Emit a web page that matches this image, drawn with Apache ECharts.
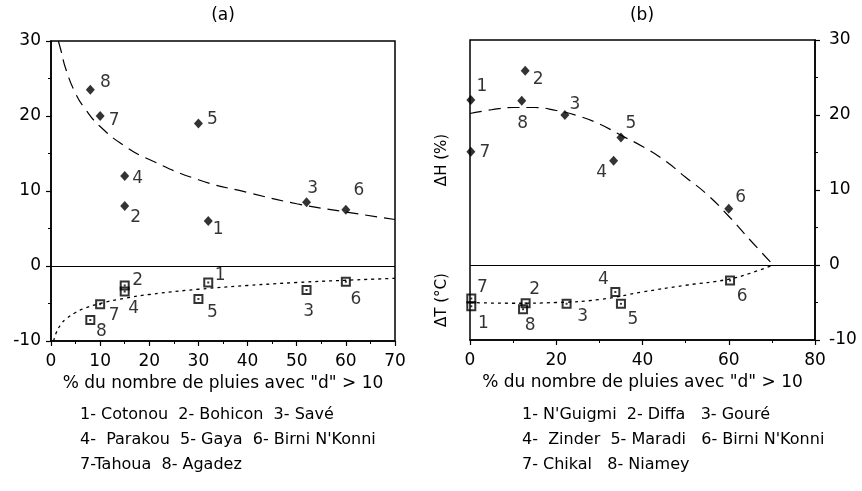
<!DOCTYPE html>
<html>
<head>
<meta charset="utf-8">
<script src="https://cdn.jsdelivr.net/npm/echarts@6/dist/echarts.min.js"></script>
<style>html,body{margin:0;padding:0;background:#fff}#c{width:862px;height:491px}</style>
</head>
<body>
<div id="c"></div>
<script>
// ---------- data: panel (a) ----------
const aIds = ['1','2','3','4','5','6','7','8'];
const aX_H = [32, 15, 52, 15, 30, 60, 10, 8];
const aY_H = [6, 8, 8.5, 12, 19, 7.5, 20, 23.5];
const aX_T = [32, 15, 52, 15, 30, 60, 10, 8];
const aY_T = [-2.2, -2.6, -3.2, -3.4, -4.4, -2.1, -5.1, -7.2];
const aCurveH_x = [1.5, 2, 3, 5, 7, 10, 15, 20, 30, 40, 50, 60, 70];
const aCurveH_y = [30, 28.8, 26.3, 23, 20.9, 18.6, 16, 14.2, 11.5, 9.8, 8.3, 7.2, 6.2];
const aCurveT_x = [0.55, 1, 2, 3, 5, 7, 10, 15, 20, 30, 40, 50, 60, 70];
const aCurveT_y = [-10, -9, -7.8, -7.1, -6.2, -5.6, -5.0, -4.3, -3.8, -3.1, -2.6, -2.2, -1.9, -1.65];
const aXTicks = [0, 10, 20, 30, 40, 50, 60, 70];
// ---------- data: panel (b) ----------
const bIds = ['1','2','3','4','5','6','7','8'];
const bX_H = [0.2, 12.8, 22, 33.3, 35, 60, 0.2, 12];
const bY_H = [22, 25.9, 20, 13.9, 17, 7.5, 15.1, 21.9];
const bX_T = [0.3, 12.9, 22.4, 33.7, 35, 60.3, 0.3, 12.3];
const bY_T = [-5.5, -5.1, -5.15, -3.6, -5.15, -2.05, -4.45, -5.9];
const bCurveH_x = [0, 5, 10, 15, 20, 25, 30, 35, 40, 45, 50, 55, 60, 65, 70.3];
const bCurveH_y = [20.2, 20.7, 21, 21, 20.6, 19.9, 18.8, 17.3, 15.8, 14.0, 11.7, 9.4, 6.5, 3.3, 0];
const bCurveT_x = [0, 10, 20, 30, 40, 50, 60, 65, 70.3];
const bCurveT_y = [-5.0, -5.1, -5.0, -4.6, -3.6, -2.7, -1.9, -1.1, 0];
const bXTicks = [0, 20, 40, 60, 80];
const yTicks = [-10, 0, 10, 20, 30];
// ---------- texts ----------
const xTitle = '% du nombre de pluies avec "d" > 10';
const aLegend = ['1- Cotonou  2- Bohicon  3- Savé', '4-  Parakou  5- Gaya  6- Birni N\'Konni', '7-Tahoua  8- Agadez'];
const bLegend = ['1- N\'Guigmi  2- Diffa   3- Gouré', '4-  Zinder  5- Maradi   6- Birni N\'Konni', '7- Chikal   8- Niamey'];

// ---------- layout (label offsets, px) ----------
const aOffH = [[10,9],[11,12],[6,-14],[13,3],[14,-4],[13,-19],[14,5],[15,-7]];
const aOffT = [[12,-7],[13,-5],[2,22],[9,17],[14,14],[10,18],[14,11],[11,12]];
const bOffH = [[11,-13],[13,9],[10,-10],[-12,12],[10,-14],[12,-11],[14,1],[1,23]];
const bOffT = [[12,17],[9,-14],[16,13],[-12,-12],[12,16],[12,16],[11,-11],[7,16]];

const FONT = 'DejaVu Sans';
const sq = 'path://M0,0H10V10H0Z M2,2V8H8V2Z M4,4H6V6H4Z';

function pts(xs, ys, ids, offs) {
  return xs.map((x, i) => ({
    value: [x, ys[i]],
    label: { offset: offs[i], formatter: ids[i] }
  }));
}
function curve(xs, ys) { return xs.map((x, i) => [x, ys[i]]); }

const lbl = { show: true, position: 'inside', color: '#000', fontFamily: FONT, fontSize: 17 };

function xAx(idx, max, interval) {
  return {
    gridIndex: idx, type: 'value', min: 0, max: max, interval: interval,
    axisLine: { show: true, onZero: false, lineStyle: { color: '#000', width: 1.5 } },
    axisTick: { show: true, length: 5, lineStyle: { color: '#000', width: 1.2 } },
    minorTick: { show: true, splitNumber: 2, length: 3, lineStyle: { color: '#000' } },
    splitLine: { show: false },
    axisLabel: { color: '#000', fontFamily: FONT, fontSize: 17, margin: 12 },
    name: xTitle, nameLocation: 'middle', nameGap: 33,
    nameTextStyle: { color: '#000', fontFamily: FONT, fontSize: 17 }
  };
}
function yAx(idx, pos) {
  return {
    gridIndex: idx, type: 'value', min: -10, max: 30, interval: 10, position: pos,
    axisLine: { show: true, onZero: false, lineStyle: { color: '#000', width: 1.5 } },
    axisTick: { show: true, length: 5, lineStyle: { color: '#000', width: 1.2 } },
    minorTick: { show: true, splitNumber: 2, length: 3, lineStyle: { color: '#000' } },
    splitLine: { show: false },
    axisLabel: { color: '#000', fontFamily: FONT, fontSize: 17, margin: pos === 'right' ? 14 : 10 }
  };
}

const zeroLine = {
  silent: true, symbol: 'none', label: { show: false },
  lineStyle: { color: '#000', type: 'solid', width: 1.2 },
  data: [{ yAxis: 0 }]
};

const option = {
  animation: false,
  backgroundColor: '#fff',
  textStyle: { fontFamily: FONT },
  grid: [
    { left: 51, top: 41, width: 344, height: 300, show: true, borderColor: '#000', borderWidth: 1.5, backgroundColor: 'transparent' },
    { left: 470, top: 40, width: 345, height: 300, show: true, borderColor: '#000', borderWidth: 1.5, backgroundColor: 'transparent' }
  ],
  xAxis: [xAx(0, 70, 10), xAx(1, 80, 20)],
  yAxis: [yAx(0, 'left'), yAx(1, 'right')],
  series: [
    { type: 'line', xAxisIndex: 0, yAxisIndex: 0, data: curve(aCurveH_x, aCurveH_y), smooth: true, showSymbol: false, silent: true,
      lineStyle: { color: '#000', width: 1.2, type: [12, 7] }, markLine: zeroLine, z: 1 },
    { type: 'line', xAxisIndex: 0, yAxisIndex: 0, data: curve(aCurveT_x, aCurveT_y), smooth: true, showSymbol: false, silent: true,
      lineStyle: { color: '#000', width: 1.3, type: [3, 4] }, z: 1 },
    { type: 'scatter', xAxisIndex: 0, yAxisIndex: 0, data: pts(aX_H, aY_H, aIds, aOffH), symbol: 'diamond', symbolSize: [9, 10],
      itemStyle: { color: '#000' }, label: lbl, z: 3 },
    { type: 'scatter', xAxisIndex: 0, yAxisIndex: 0, data: pts(aX_T, aY_T, aIds, aOffT), symbol: sq, symbolSize: 10,
      itemStyle: { color: '#000' }, label: lbl, z: 3 },
    { type: 'line', xAxisIndex: 1, yAxisIndex: 1, data: curve(bCurveH_x, bCurveH_y), smooth: true, showSymbol: false, silent: true,
      lineStyle: { color: '#000', width: 1.2, type: [12, 7] }, markLine: zeroLine, z: 1 },
    { type: 'line', xAxisIndex: 1, yAxisIndex: 1, data: curve(bCurveT_x, bCurveT_y), smooth: true, showSymbol: false, silent: true,
      lineStyle: { color: '#000', width: 1.3, type: [3, 4] }, z: 1 },
    { type: 'scatter', xAxisIndex: 1, yAxisIndex: 1, data: pts(bX_H, bY_H, bIds, bOffH), symbol: 'diamond', symbolSize: [9, 10],
      itemStyle: { color: '#000' }, label: lbl, z: 3 },
    { type: 'scatter', xAxisIndex: 1, yAxisIndex: 1, data: pts(bX_T, bY_T, bIds, bOffT), symbol: sq, symbolSize: 10,
      itemStyle: { color: '#000' }, label: lbl, z: 3 }
  ],
  graphic: [
    { type: 'text', x: 223, y: 16, style: { text: '(a)', font: '17px "DejaVu Sans"', fill: '#000', textAlign: 'center', textVerticalAlign: 'middle' } },
    { type: 'text', x: 642, y: 16, style: { text: '(b)', font: '17px "DejaVu Sans"', fill: '#000', textAlign: 'center', textVerticalAlign: 'middle' } },
    { type: 'text', x: 442, y: 160, rotation: Math.PI / 2, style: { text: 'ΔH (%)', font: '15px "DejaVu Sans"', fill: '#000', textAlign: 'center', textVerticalAlign: 'middle' } },
    { type: 'text', x: 442, y: 300, rotation: Math.PI / 2, style: { text: 'ΔT (°C)', font: '15px "DejaVu Sans"', fill: '#000', textAlign: 'center', textVerticalAlign: 'middle' } },
    { type: 'text', x: 80, y: 402, style: { text: aLegend.join('\n'), font: '16px "DejaVu Sans"', fill: '#000', lineHeight: 25 } },
    { type: 'text', x: 522, y: 402, style: { text: bLegend.join('\n'), font: '16px "DejaVu Sans"', fill: '#000', lineHeight: 25 } }
  ]
};

const chart = echarts.init(document.getElementById('c'), null, { renderer: 'canvas' });
chart.setOption(option);
</script>
</body>
</html>
